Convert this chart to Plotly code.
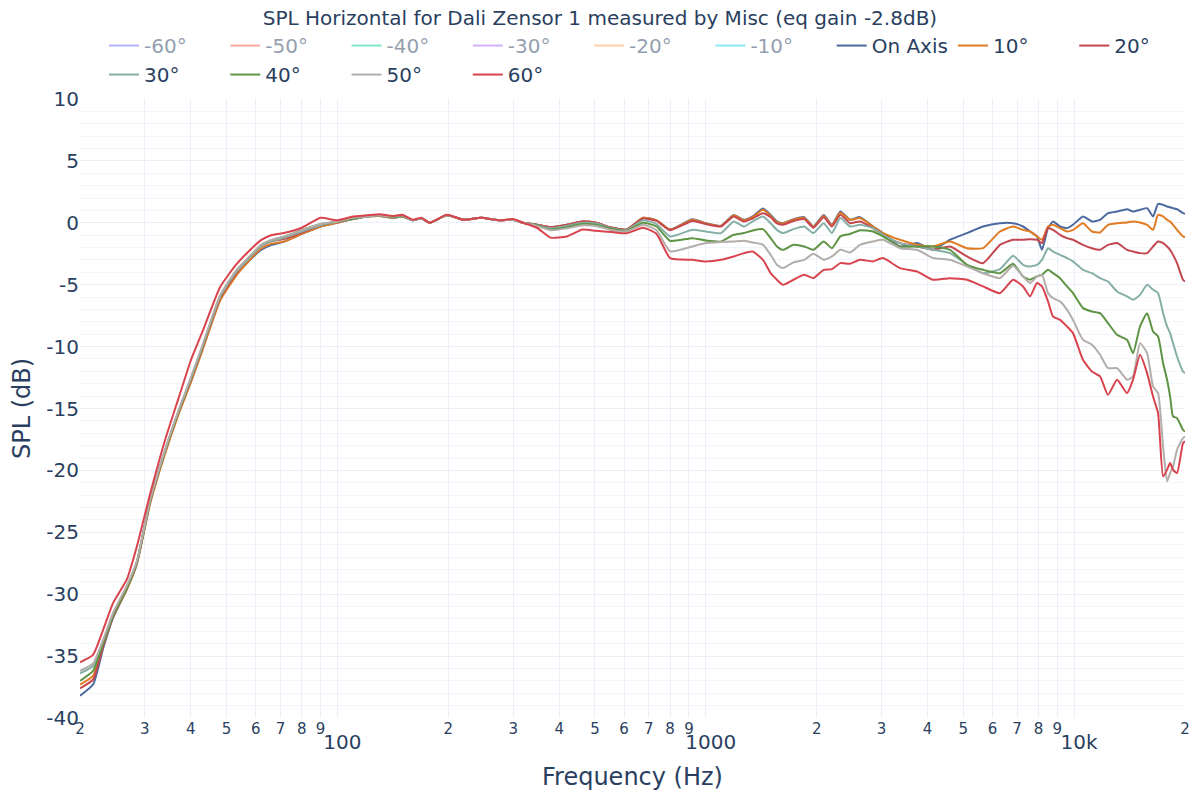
import plotly.graph_objects as go

freq = [20, 21.7, 23.1, 24.6, 26.8, 28.5, 31, 34, 37, 40, 43, 48, 53, 57, 62, 66, 72, 80, 90, 100,
        110, 120, 130, 141, 150, 160, 169, 178, 198, 220, 245, 276, 300, 319, 348, 379, 420, 463, 503, 556,
        609, 676, 735, 800,
        920, 1000, 1100, 1190, 1270, 1340, 1430, 1500, 1560, 1620, 1730, 1850, 1960, 2090, 2200, 2320,
        2464, 2622, 2845, 3027, 3367, 3746, 4140, 4603, 5120, 5658, 6292, 6827, 7266, 7592, 7929, 8181,
        8494, 8764, 9157, 9566, 9930, 10570, 11180, 11760, 12360, 13080, 13920, 14450, 15100, 15780,
        16380, 16900, 17440, 17880, 18220, 18560, 19030, 19750, 20000]

on_axis = [-38.2, -37.3, -34.4, -31.9, -29.6, -27.6, -22.6, -18.6, -15.4, -12.8, -10.2, -6.2, -4.2, -3.2, -2.2, -1.8, -1.5, -0.9, -0.3, 0.0,
           0.3, 0.5, 0.55, 0.4, 0.5, 0.2, 0.35, 0.0, 0.6, 0.25, 0.4, 0.2, 0.25, 0.0, -0.15, -0.35, -0.15, 0.1, 0.0, -0.4,
           -0.55, 0.4, 0.2, -0.55,
           0.29, -0.03, -0.24, 0.64, 0.24, 0.51, 1.16, 0.64, 0.11, -0.03, 0.29, 0.46, -0.30, 0.64, -0.16, 0.91,
           0.24, 0.46, -0.30, -0.83, -1.91, -1.64, -2.18, -1.37, -0.83, -0.30, -0.03, -0.03, -0.30, -0.70, -1.10, -2.18,
           -0.43, 0.11, -0.30, -0.43, -0.16, 0.51, 0.11, 0.24, 0.78, 0.91, 1.10, 0.91, 1.05, 1.18,
           0.51, 1.53, 1.45, 1.32, 1.26, 1.18, 1.10, 0.78, 0.73]

deg10 = [-37.3, -36.6, -34.1, -31.8, -29.6, -27.6, -22.7, -18.7, -15.5, -12.9, -10.3, -6.3, -4.3, -3.2, -2.1, -1.7, -1.5, -0.9, -0.3, 0.0,
         0.3, 0.5, 0.55, 0.4, 0.5, 0.2, 0.35, 0.0, 0.6, 0.25, 0.4, 0.2, 0.25, 0.0, -0.15, -0.35, -0.15, 0.1, 0.0, -0.4,
         -0.55, 0.4, 0.2, -0.55,
         0.25, -0.05, -0.25, 0.6, 0.2, 0.45, 1.05, 0.55, 0.05, -0.05, 0.25, 0.4, -0.32, 0.55, -0.2, 0.82,
         0.24, 0.38, -0.30, -0.83, -1.37, -1.78, -1.91, -1.51, -2.05, -2.05, -0.70, -0.30, -0.57, -0.70, -1.10, -1.37,
         -0.30, -0.16, -0.43, -0.70, -0.57, -0.03, -0.70, -0.78, -0.16, -0.03, 0.03, 0.11, 0.03, -0.16,
         -0.57, 0.64, 0.51, 0.24, 0.11, -0.16, -0.57, -1.10, -1.16]

deg20 = [-37.6, -36.9, -34.2, -31.8, -29.5, -27.5, -22.5, -18.5, -15.3, -12.7, -10.1, -6.1, -4.1, -3.0, -1.9, -1.5, -1.3, -0.8, -0.2, 0.1,
         0.3, 0.5, 0.6, 0.45, 0.55, 0.2, 0.35, 0.0, 0.6, 0.25, 0.4, 0.2, 0.25, 0.0, -0.15, -0.35, -0.15, 0.1, 0.0, -0.4,
         -0.55, 0.35, 0.15, -0.6,
         0.15, -0.1, -0.3, 0.5, 0.1, 0.35, 0.78, 0.45, -0.05, -0.15, 0.15, 0.3, -0.4, 0.45, -0.3, 0.64,
         -0.03, 0.11, -0.43, -0.97, -1.64, -1.91, -2.18, -1.91, -2.72, -3.26, -1.78, -1.37, -1.37, -1.32, -1.37, -1.64,
         -0.43, -0.57, -0.97, -1.24, -1.37, -1.78, -2.05, -2.18, -1.78, -1.64, -2.18, -2.32, -2.45, -2.45,
         -1.91, -1.51, -1.64, -1.91, -2.18, -2.59, -3.26, -4.60, -4.74]

deg30 = [-36.4, -35.8, -33.8, -31.6, -29.4, -27.4, -22.4, -18.4, -15.2, -12.6, -10.0, -6.0, -4.0, -3.0, -1.9, -1.5, -1.2, -0.7, -0.2, 0.1,
         0.3, 0.5, 0.6, 0.45, 0.55, 0.2, 0.35, 0.0, 0.6, 0.25, 0.4, 0.2, 0.25, 0.0, -0.2, -0.45, -0.25, 0.0, -0.05, -0.45,
         -0.6, 0.2, -0.1, -1.1,
         -0.57, -0.70, -0.83, 0.11, -0.30, 0.11, 0.51, -0.03, -0.57, -0.83, -0.51, -0.30, -0.83, -0.03, -0.83, 0.38,
         -0.30, -0.16, -0.43, -0.97, -1.64, -1.91, -2.18, -2.45, -3.39, -4.07, -3.74, -2.67, -3.39, -3.53, -3.39, -2.99,
         -2.05, -2.32, -2.59, -2.85, -3.12, -3.80, -4.07, -4.47, -4.74, -5.55, -5.95, -6.22, -5.82, -5.01,
         -5.41, -5.68, -7.30, -8.37, -8.91, -9.72, -10.80, -12.01, -12.14]

deg40 = [-37.0, -36.2, -34.0, -31.7, -29.5, -27.5, -22.5, -18.5, -15.3, -12.6, -10.0, -5.9, -3.9, -2.9, -1.8, -1.4, -1.1, -0.6, -0.1, 0.1,
         0.3, 0.5, 0.6, 0.45, 0.55, 0.2, 0.35, 0.0, 0.6, 0.25, 0.4, 0.2, 0.25, 0.0, -0.2, -0.55, -0.35, -0.1, -0.15, -0.5,
         -0.65, 0.0, -0.3, -1.45,
         -1.24, -1.43, -1.51, -0.97, -0.83, -0.62, -0.51, -1.24, -1.91, -2.18, -1.78, -1.91, -2.18, -1.51, -2.05, -1.10,
         -0.90, -0.60, -0.70, -1.10, -1.91, -1.91, -1.91, -2.18, -3.39, -3.80, -4.07, -3.31, -4.33, -4.60, -4.33, -4.20,
         -3.80, -4.07, -4.47, -5.14, -5.68, -6.89, -7.16, -7.30, -8.10, -9.05, -9.45, -10.53, -8.37, -7.30,
         -8.78, -9.18, -11.34, -12.68, -14.03, -15.64, -15.78, -16.72, -16.85]

deg50 = [-36.2, -35.6, -33.7, -31.5, -29.3, -27.4, -22.4, -18.4, -15.2, -12.5, -9.9, -5.9, -3.9, -2.9, -1.8, -1.4, -1.1, -0.6, -0.1, 0.1,
         0.4, 0.5, 0.6, 0.5, 0.6, 0.2, 0.35, 0.0, 0.6, 0.25, 0.4, 0.2, 0.25, 0.0, -0.25, -0.6, -0.45, -0.2, -0.25, -0.6,
         -0.7, -0.15, -0.6, -2.3,
         -1.91, -1.64, -1.56, -1.51, -1.45, -1.59, -1.78, -2.59, -3.39, -3.66, -3.20, -2.99, -2.50, -2.99, -2.72, -2.18,
         -2.40, -1.78, -1.51, -1.37, -2.05, -2.18, -2.85, -2.99, -3.53, -4.07, -4.47, -3.47, -4.33, -4.87, -4.33, -4.20,
         -5.68, -6.09, -6.35, -7.03, -7.84, -9.45, -9.85, -10.66, -11.74, -11.74, -12.68, -12.41, -9.72, -10.53,
         -13.22, -13.76, -18.07, -20.89, -20.22, -19.68, -18.34, -17.39, -17.26]

deg60 = [-35.5, -34.9, -32.9, -30.7, -28.8, -26.2, -21.9, -17.6, -14.2, -11.1, -8.8, -5.2, -3.4, -2.4, -1.4, -1.0, -0.8, -0.4, 0.4, 0.2,
         0.5, 0.6, 0.7, 0.55, 0.65, 0.25, 0.4, 0.0, 0.65, 0.25, 0.4, 0.2, 0.3, 0.0, -0.4, -1.2, -1.1, -0.55, -0.65, -0.75,
         -0.85, -0.4, -0.9, -2.85,
         -2.99, -3.12, -2.99, -2.72, -2.45, -2.32, -2.99, -4.07, -4.60, -5.01, -4.60, -4.20, -4.47, -3.80, -3.74, -3.26,
         -3.30, -2.99, -3.12, -2.85, -3.66, -3.93, -4.60, -4.47, -4.60, -5.14, -5.68, -4.60, -5.14, -5.95, -4.87, -5.14,
         -6.35, -7.57, -7.84, -8.37, -8.91, -11.07, -12.01, -12.41, -13.89, -12.68, -13.76, -12.68, -10.66, -12.14,
         -14.03, -15.37, -20.49, -19.95, -19.41, -19.95, -20.22, -17.80, -17.66]

# y tick labels (hyphen-minus, as in the reference)
y_tickvals = [10, 5, 0, -5, -10, -15, -20, -25, -30, -35, -40]
y_ticktext = ["10", "5", "0", "-5", "-10", "-15", "-20", "-25", "-30", "-35", "-40"]

# negative angles are hidden (legend only); symmetric speaker, mirrored data
names = ["-60°", "-50°", "-40°", "-30°", "-20°", "-10°", "On Axis", "10°", "20°", "30°", "40°", "50°", "60°"]
series = [deg60, deg50, deg40, deg30, deg20, deg10, on_axis, deg10, deg20, deg30, deg40, deg50, deg60]
colors = ["#636efa", "#EF553B", "#00cc96", "#ab63fa", "#FFA15A", "#19d3f3",
          "#4c6a9e", "#e07b22", "#c4474f", "#86b0a6", "#5e9443", "#b3aeac", "#d9434d"]
hidden = [True] * 6 + [False] * 7

fig = go.Figure()
for name, ys, col, hid in zip(names, series, colors, hidden):
    fig.add_trace(go.Scatter(
        x=freq, y=ys, name=name, mode="lines",
        line=dict(color=col, width=2, shape="spline", smoothing=0.5),
        visible="legendonly" if hid else True,
    ))

fig.update_layout(
    template="plotly_white",
    width=1192, height=792,
    margin=dict(l=72, r=15, t=91, b=82),
    title=dict(text="SPL Horizontal for Dali Zensor 1 measured by Misc (eq gain -2.8dB)",
               x=0.4966, xanchor="center", y=0.988, yanchor="middle",
               font=dict(size=20)),
    legend=dict(orientation="h", x=0.0217, xanchor="left", y=1.008, yanchor="bottom",
                font=dict(size=20)),
    font=dict(family="DejaVu Sans, Verdana, sans-serif", color="#2a3f5f"),
    showlegend=True,
)
fig.update_xaxes(type="log", range=[1.30103, 4.30103], dtick="D1",
                 title=dict(text="Frequency (Hz)", font=dict(size=24)),
                 tickfont=dict(size=20), showgrid=True, automargin=False)
fig.update_yaxes(range=[-40, 10], tickmode="array", tickvals=y_tickvals, ticktext=y_ticktext,
                 title=dict(text="SPL (dB)", font=dict(size=24)),
                 tickfont=dict(size=20), showgrid=True, automargin=False,
                 minor=dict(dtick=1, showgrid=True, gridcolor="#f2f5fa"),
                 zeroline=False)

fig.write_html("out.html")
